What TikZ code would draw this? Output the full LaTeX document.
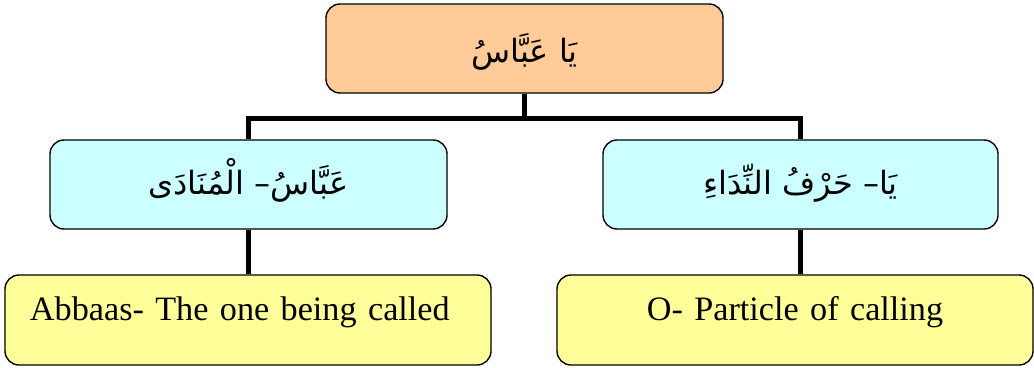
\documentclass[tikz,border=0pt]{standalone}
\usepackage{fontspec}
\setmainfont{Liberation Serif}
\newfontfamily\arabicfont[Script=Arabic]{DejaVu Sans}
\TeXXeTstate=1
\definecolor{peach}{HTML}{FFCC99}
\definecolor{lightcyan}{HTML}{CCFFFF}
\definecolor{lightyellow}{HTML}{FFFF99}
\tikzset{
  box/.style={draw=black, line width=1.4pt, rounded corners=14pt, inner sep=0pt},
  arbox/.style={box, font=\arabicfont\fontsize{32}{38}\selectfont},
  engbox/.style={box, text height=45pt, text depth=45pt, font=\fontsize{34.2}{40}\selectfont},
  conn/.style={line width=5pt, draw=black}
}
\begin{document}
\begin{tikzpicture}[x=1pt,y=-1pt]
\useasboundingbox (0,0) rectangle (1034,367);
\node[arbox, fill=peach, minimum width=397pt, text height=58pt, text depth=31pt] (top) at (524.5,48.5) {\beginR يَا عَبَّاسُ\endR};
\node[arbox, fill=lightcyan, minimum width=397pt, text height=54pt, text depth=35pt] (midL) at (248.5,184.5) {\beginR عَبَّاسُ– الْمُنَادَى\endR};
\node[arbox, fill=lightcyan, minimum width=395pt, text height=54pt, text depth=35pt] (midR) at (800.5,184.5) {\beginR يَا– حَرْفُ النِّدَاءِ\endR};
\node[engbox, fill=lightyellow, inner xsep=25pt, text width=436pt, align=left] (botL) at (248,320) {Abbaas- The one being called};
\node[engbox, fill=lightyellow, inner xsep=10pt, text width=456pt, align=center] (botR) at (795,320) {O- Particle of calling};
\coordinate (bus) at (524.5,118);
\draw[conn] (top.south) -- (bus);
\draw[conn] (midL.north) |- (bus) -| (midR.north);
\draw[conn] (midL.south) -- (midL.south |- botL.north);
\draw[conn] (midR.south) -- (midR.south |- botR.north);
\end{tikzpicture}
\end{document}
